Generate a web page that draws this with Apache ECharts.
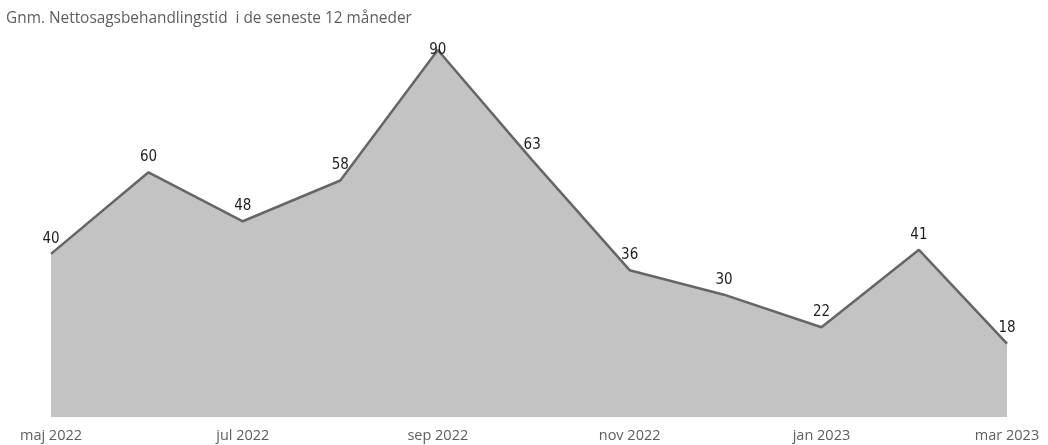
<!DOCTYPE html>
<html><head><meta charset="utf-8">
<script src="https://cdn.jsdelivr.net/npm/echarts@6/dist/echarts.min.js"></script>
<style>html,body{margin:0;padding:0;background:#fff}#c{width:1048px;height:445px}</style>
</head><body><div id="c"></div>
<script>
var months = ['2022-05','2022-06','2022-07','2022-08','2022-09','2022-10','2022-11','2022-12','2023-01','2023-02','2023-03'];
var values = [40, 60, 48, 58, 90, 63, 36, 30, 22, 41, 18];
var tickMonths = ['2022-05','2022-07','2022-09','2022-11','2023-01','2023-03'];
var tickLabels = ['maj 2022','jul 2022','sep 2022','nov 2022','jan 2023','mar 2023'];
var titleText = 'Gnm. Nettosagsbehandlingstid  i de seneste 12 måneder';

// continuous date axis: x = days since the first month
function toDay(ym) {
  var p = ym.split('-');
  var t = Date.UTC(+p[0], +p[1] - 1, 1);
  var p0 = months[0].split('-');
  return Math.round((t - Date.UTC(+p0[0], +p0[1] - 1, 1)) / 86400000);
}
var yMax = 90;
var seriesData = months.map(function (m, i) {
  var v = values[i];
  // labels that would fall above the plot area are kept inside it (as in the original)
  return v >= yMax ? {value: [toDay(m), v], label: {position: 'inside'}} : [toDay(m), v];
});
var tickDays = tickMonths.map(toDay);

var chart = echarts.init(document.getElementById('c'));
chart.setOption({
  animation: false,
  title: {
    text: titleText, left: 1, top: 6,
    textStyle: {fontFamily: 'Open Sans', fontSize: 15.4, fontWeight: 'normal', color: '#605E5C'}
  },
  grid: {left: 51, right: 41, top: 50, bottom: 28},
  xAxis: {
    type: 'value', min: toDay(months[0]), max: toDay(months[months.length - 1]),
    axisLine: {show: false}, axisTick: {show: false}, splitLine: {show: false},
    axisLabel: {
      customValues: tickDays, hideOverlap: false,
      color: '#605E5C', fontFamily: 'Open Sans', fontSize: 14.5, margin: 11,
      formatter: function (val) {
        var idx = tickDays.indexOf(Math.round(+val));
        return idx >= 0 ? tickLabels[idx] : '';
      }
    }
  },
  yAxis: {type: 'value', min: 0, max: yMax, show: false, splitLine: {show: false}},
  series: [{
    type: 'line', data: seriesData, symbol: 'circle', symbolSize: 1, showSymbol: true,
    itemStyle: {color: 'rgba(0,0,0,0)'},
    lineStyle: {color: '#666666', width: 2.5},
    areaStyle: {color: '#C3C3C3', opacity: 1},
    label: {show: true, position: 'top', distance: 7, color: '#1F1F1F', fontFamily: 'DejaVu Sans Condensed', fontSize: 15,
      formatter: function (p) { return p.value[1]; }}
  }]
});
</script></body></html>
